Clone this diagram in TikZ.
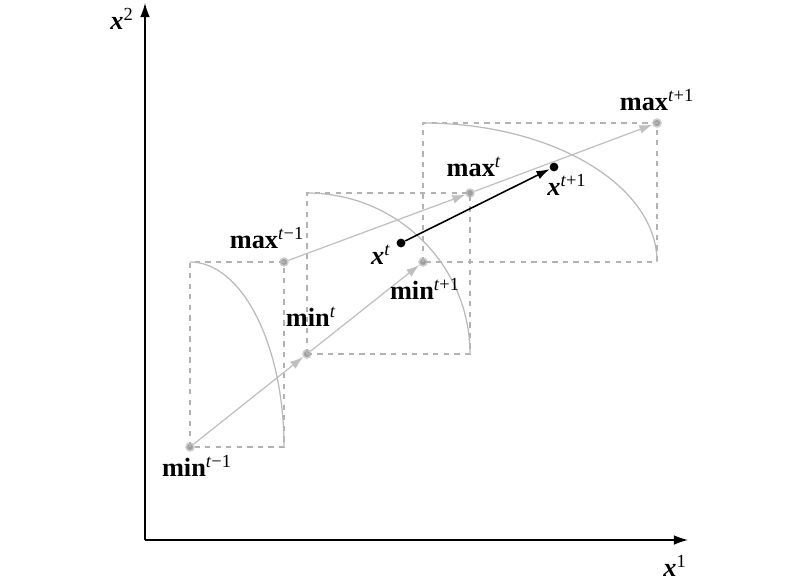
\documentclass[tikz,border=0pt]{standalone}
\usepackage{fontspec}
\setmainfont{Liberation Serif}
\usetikzlibrary{arrows.meta}

\newcommand{\sps}[1]{\textsuperscript{\mdseries #1}}

\tikzset{
	lbl/.style={font=\fontsize{15}{17}\selectfont\bfseries, inner sep=1pt},
	gpt/.style={circle, fill=gray!75, draw=gray!40, line width=0.9pt, inner sep=0pt, minimum size=4.5pt},
	bpt/.style={circle, fill=black, inner sep=0pt, minimum size=5pt},
	gbox/.style={draw=gray!60, dashed, line width=0.6pt},
	garc/.style={draw=gray!55, line width=0.7pt},
	garrow/.style={-{Latex[length=7.5pt,width=5pt]}, draw=gray!50, fill=gray!50, line width=0.7pt},
	barrow/.style={-{Latex[length=7.5pt,width=5pt]}, line width=0.9pt},
	axis/.style={-{Latex[length=8pt,width=5.5pt]}, line width=0.8pt}
}

\begin{document}
\begin{tikzpicture}[x=0.02cm,y=-0.02cm]
	\useasboundingbox (0,0) rectangle (800,584);

	% axes
	\coordinate (o) at (145,540);
	\coordinate (ytip) at (145,3);
	\coordinate (xtip) at (688,540);
	\draw[axis] (o) -- (ytip);
	\draw[axis] (o) -- (xtip);
	\node[lbl] (xtwo) at (122,19) {\textit{x}\sps{2}};
	\node[lbl] (xone) at (675,566) {\textit{x}\sps{1}};

	% corner points
	\node[gpt] (min1) at (190,447) {};
	\node[gpt] (max1) at (284,262) {};
	\node[gpt] (min2) at (307,354) {};
	\node[gpt] (max2) at (470,193) {};
	\node[gpt] (min3) at (423,262) {};
	\node[gpt] (max3) at (657,123) {};

	% boxes and arcs
	\draw[gbox] (min1.center) rectangle (max1.center);
	\draw[gbox] (min2.center) rectangle (max2.center);
	\draw[gbox] (min3.center) rectangle (max3.center);
	\draw[garc] (min1.center |- max1.center) arc[start angle=-90, end angle=0, x radius=94, y radius=185];
	\draw[garc] (min2.center |- max2.center) arc[start angle=-90, end angle=0, x radius=163, y radius=161];
	\draw[garc] (min3.center |- max3.center) arc[start angle=-90, end angle=0, x radius=234, y radius=139];

	% moves of the box
	\draw[garrow] (min1) -- (min2);
	\draw[garrow] (min2) -- (min3);
	\draw[garrow] (max1) -- (max2);
	\draw[garrow] (max2) -- (max3);

	% step of x
	\node[bpt] (xt) at (401,243) {};
	\node[bpt] (xt1) at (554,167) {};
	\draw[barrow] (xt) -- (xt1);

	% labels
	\node[lbl] (lmin1) at (197,466) {min\sps{\textit{t}−1}};
	\node[lbl] (lmax1) at (267,238) {max\sps{\textit{t}−1}};
	\node[lbl] (lmin2) at (311,317) {min\sps{\textit{t}}};
	\node[lbl] (lmax2) at (474,167) {max\sps{\textit{t}}};
	\node[lbl] (lmin3) at (425,289) {min\sps{\textit{t}+1}};
	\node[lbl] (lmax3) at (657,100) {max\sps{\textit{t}+1}};
	\node[lbl] (lxt) at (381,255) {\textit{x}\sps{\textit{t}}};
	\node[lbl] (lxt1) at (567,185) {\textit{x}\sps{\textit{t}+1}};
\end{tikzpicture}
\end{document}
